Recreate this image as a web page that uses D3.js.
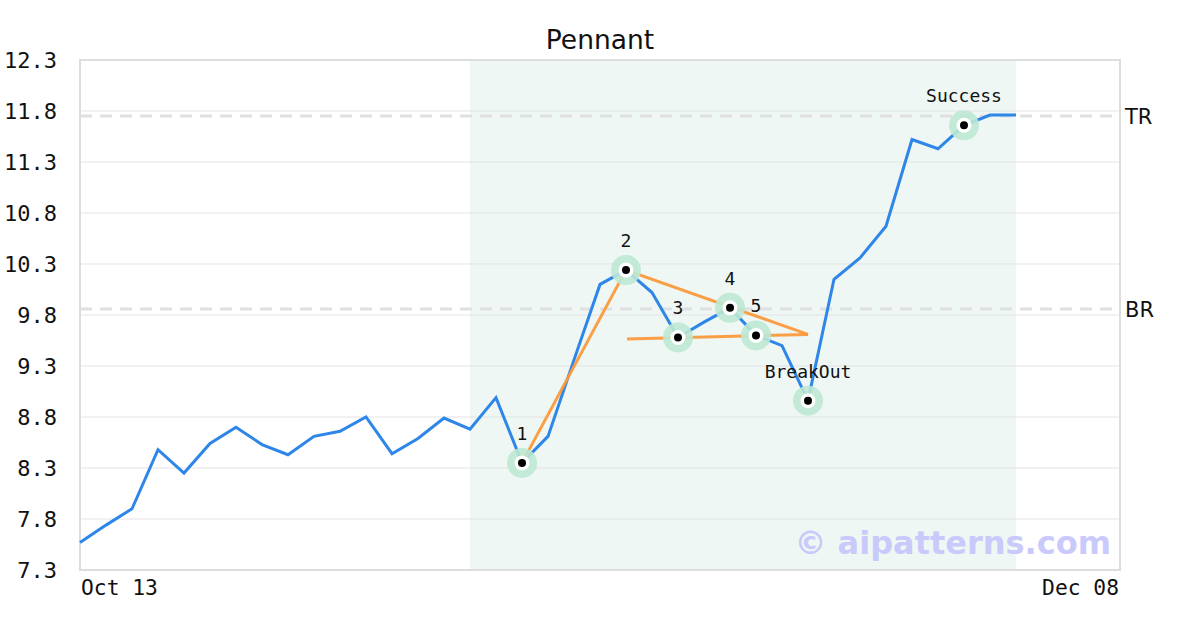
<!DOCTYPE html>
<html><head><meta charset="utf-8">
<script src="https://cdn.jsdelivr.net/npm/d3@7"></script>
<style>body{margin:0;background:#fff}svg{display:block}</style>
</head><body>
<svg id="c" width="1200" height="630"></svg>
<script>
const title = "Pennant";
const xTickLabels = ["Oct 13", "Dec 08"];
const yTicks = [7.3, 7.8, 8.3, 8.8, 9.3, 9.8, 10.3, 10.8, 11.3, 11.8, 12.3];
const prices = [7.57, 7.74, 7.90, 8.48, 8.25, 8.54, 8.70, 8.53, 8.43, 8.61, 8.66, 8.80, 8.44, 8.59, 8.79, 8.68, 8.99, 8.35, 8.61, 9.36, 10.10, 10.24, 10.02, 9.58, 9.73, 9.87, 9.60, 9.50, 8.96, 10.15, 10.36, 10.67, 11.52, 11.43, 11.66, 11.76, 11.76];
const totalSlots = 40;
const markIdx = [17, 21, 23, 25, 26, 28, 34];
const markLabels = ["1", "2", "3", "4", "5", "BreakOut", "Success"];
const upperLine = [[17, 8.35], [21, 10.24], [28, 9.61]];
const lowerLine = [[21.04, 9.565], [28, 9.61]];
const levels = [{name: "TR", value: 11.75}, {name: "BR", value: 9.86}];
const shadeRange = [15, 36];

const svg = d3.select("#c");
const m = {l: 80, r: 80, t: 60, b: 60};
const W = 1200, H = 630;
const x = d3.scaleLinear().domain([0, totalSlots]).range([m.l, W - m.r]);
const y = d3.scaleLinear().domain([7.3, 12.3]).range([H - m.b, m.t]);
const mono = "DejaVu Sans Mono, monospace";
const sans = "DejaVu Sans, sans-serif";

svg.append("rect").attr("x", x(shadeRange[0])).attr("y", y(12.3))
  .attr("width", x(shadeRange[1]) - x(shadeRange[0])).attr("height", y(7.3) - y(12.3))
  .attr("fill", "#eef7f3");

svg.append("g").selectAll("line").data(yTicks.slice(1, -1)).join("line")
  .attr("x1", x(0)).attr("x2", x(totalSlots)).attr("y1", d => y(d)).attr("y2", d => y(d))
  .attr("stroke", "#e3e3e3").attr("stroke-width", 1);

svg.append("g").selectAll("line").data(levels).join("line")
  .attr("x1", x(0)).attr("x2", x(totalSlots)).attr("y1", d => y(d.value)).attr("y2", d => y(d.value))
  .attr("stroke", "#e0e0e0").attr("stroke-width", 3).attr("stroke-dasharray", "12,8");

svg.append("g").selectAll("text").data(levels).join("text")
  .attr("x", x(totalSlots) + 5).attr("y", d => y(d.value) + 8)
  .attr("font-family", sans).attr("font-size", 21).attr("fill", "#111").text(d => d.name);

svg.append("rect").attr("x", x(0)).attr("y", y(12.3)).attr("width", x(totalSlots) - x(0))
  .attr("height", y(7.3) - y(12.3)).attr("fill", "none").attr("stroke", "#dddddd").attr("stroke-width", 2);

const yAxis = d3.axisLeft(y).tickValues(yTicks).tickFormat(d3.format(".1f")).tickSize(0).tickPadding(23);
const ya = svg.append("g").attr("transform", `translate(${m.l},0)`).call(yAxis);
ya.select(".domain").remove();
ya.selectAll("text").attr("font-family", mono).attr("font-size", 22).attr("fill", "#111").attr("dy", "0.36em");

const xa = svg.append("g");
xa.append("text").attr("x", x(0) + 1).attr("y", 595).attr("font-family", mono).attr("font-size", 21.3)
  .attr("fill", "#111").text(xTickLabels[0]);
xa.append("text").attr("x", x(totalSlots) - 1).attr("y", 595).attr("text-anchor", "end").attr("font-family", mono)
  .attr("font-size", 21.3).attr("fill", "#111").text(xTickLabels[1]);

svg.append("text").attr("x", W / 2).attr("y", 49).attr("text-anchor", "middle")
  .attr("font-family", sans).attr("font-size", 26.5).attr("fill", "#111").text(title);

const line = d3.line().x(d => x(d[0])).y(d => y(d[1]));
svg.append("path").datum(prices.map((v, i) => [i, v])).attr("d", line)
  .attr("fill", "none").attr("stroke", "#2e86e8").attr("stroke-width", 3).attr("stroke-linejoin", "miter");

[upperLine, lowerLine].forEach(l => {
  svg.append("path").datum(l).attr("d", line).attr("fill", "none")
    .attr("stroke", "#fa9a3c").attr("stroke-width", 3).attr("opacity", 0.95);
});

const md = markIdx.map((i, k) => ({i, v: prices[i], lab: markLabels[k]}));
const mk = svg.append("g").selectAll("g").data(md).join("g")
  .attr("transform", d => `translate(${x(d.i)},${y(d.v)})`);
mk.append("circle").attr("r", 15).attr("fill", "#bce8d3").attr("opacity", 0.9);
mk.append("circle").attr("r", 7.5).attr("fill", "#fff");
mk.append("circle").attr("r", 4).attr("fill", "#000");

svg.append("g").selectAll("text").data(md).join("text")
  .attr("x", d => x(d.i)).attr("y", d => y(d.v) - 23).attr("text-anchor", "middle")
  .attr("font-family", mono).attr("font-size", 18).attr("fill", "#111").text(d => d.lab);

svg.append("text").attr("x", 1111).attr("y", 554).attr("text-anchor", "end")
  .attr("font-family", sans).attr("font-weight", "bold").attr("font-size", 32)
  .attr("fill", "#c9c9fb").text("© aipatterns.com");
</script>
</body></html>
